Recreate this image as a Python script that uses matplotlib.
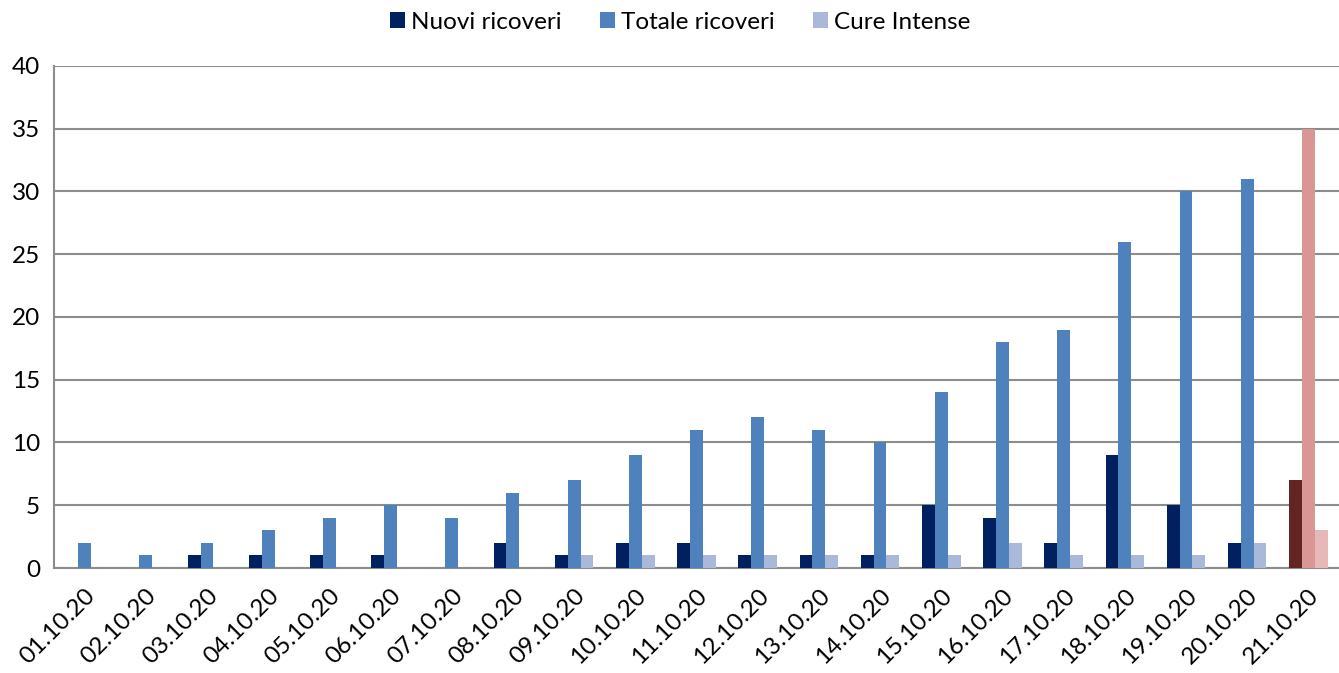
import numpy as np
import matplotlib.pyplot as plt

dates = ['01.10.20', '02.10.20', '03.10.20', '04.10.20', '05.10.20', '06.10.20', '07.10.20',
         '08.10.20', '09.10.20', '10.10.20', '11.10.20', '12.10.20', '13.10.20', '14.10.20',
         '15.10.20', '16.10.20', '17.10.20', '18.10.20', '19.10.20', '20.10.20', '21.10.20']
nuovi = [0, 0, 1, 1, 1, 1, 0, 2, 1, 2, 2, 1, 1, 1, 5, 4, 2, 9, 5, 2, 7]
totale = [2, 1, 2, 3, 4, 5, 4, 6, 7, 9, 11, 12, 11, 10, 14, 18, 19, 26, 30, 31, 35]
cure = [0, 0, 0, 0, 0, 0, 0, 0, 1, 1, 1, 1, 1, 1, 1, 2, 1, 1, 1, 2, 3]

plt.rcParams['font.family'] = ['Lato', 'DejaVu Sans']

fig = plt.figure(figsize=(13.39, 6.73), dpi=100)
ax = fig.add_axes([0.0403, 0.156, 0.9597, 0.746])

x = np.arange(len(dates))
w = 0.21
c_nuovi = ['#002060'] * (len(dates) - 1) + ['#632523']
c_tot = ['#4F81BD'] * (len(dates) - 1) + ['#DA9694']
c_cure = ['#AAB9D9'] * (len(dates) - 1) + ['#E6B9B8']

ax.bar(x - w, nuovi, w, color=c_nuovi, label='Nuovi ricoveri', zorder=3)
ax.bar(x, totale, w, color=c_tot, label='Totale ricoveri', zorder=3)
ax.bar(x + w, cure, w, color=c_cure, label='Cure Intense', zorder=3)

ax.set_xlim(-0.5, len(dates) - 0.5)
ax.set_ylim(0, 40)
ax.set_yticks(range(0, 41, 5))
ax.yaxis.grid(True, color='#8C8C8C', linewidth=1.5, zorder=0)
ax.set_xticks(x)
ax.set_xticklabels(dates, rotation=45, ha='right', rotation_mode='anchor')
ax.tick_params(axis='both', length=0, labelsize=17.5)
ax.tick_params(axis='x', pad=12)
ax.tick_params(axis='y', pad=10)
for s in ['top', 'right']:
    ax.spines[s].set_visible(False)
for s in ['left', 'bottom']:
    ax.spines[s].set_color('#8C8C8C')
    ax.spines[s].set_linewidth(1.5)

leg = fig.legend(loc='upper center', bbox_to_anchor=(0.508, 1.015), ncol=3, frameon=False,
                 fontsize=17.5, handlelength=0.6, handleheight=0.6, handletextpad=0.25,
                 columnspacing=1.6)

fig.savefig('out.png', dpi=100)
